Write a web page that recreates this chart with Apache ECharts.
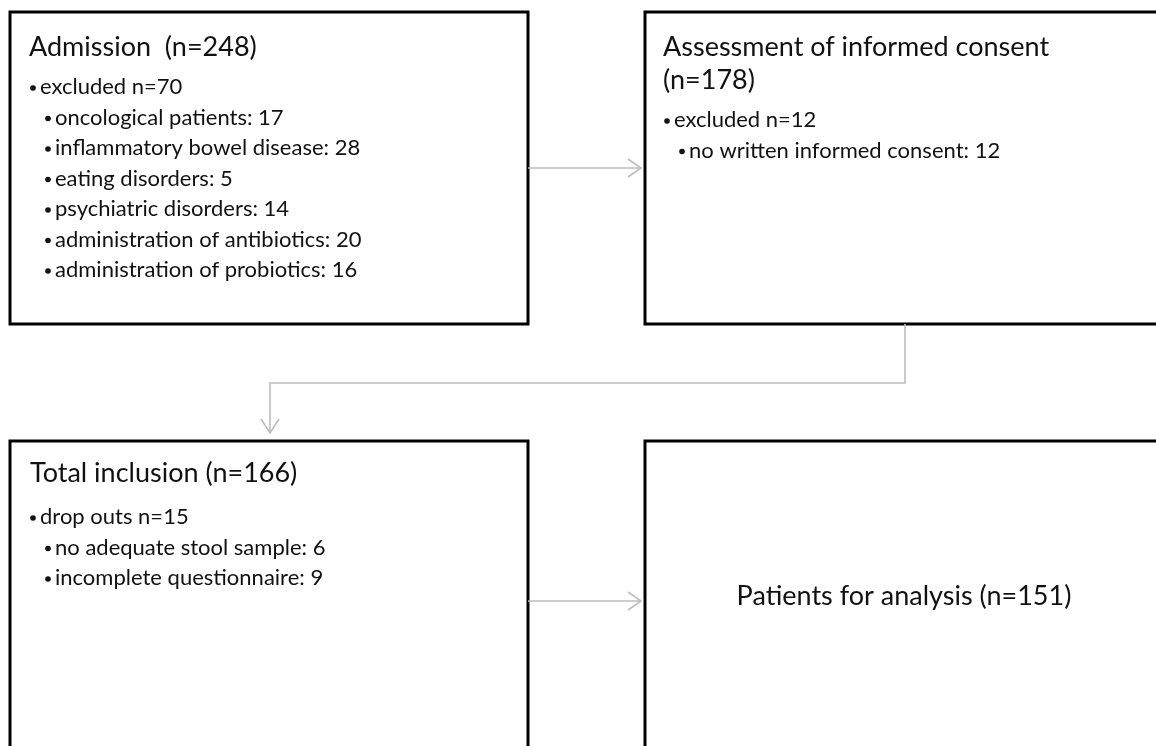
<!DOCTYPE html>
<html>
<head>
<meta charset="utf-8">
<script src="https://cdn.jsdelivr.net/npm/echarts@6/dist/echarts.min.js"></script>
<style>
  html, body { margin: 0; padding: 0; background: #fff; }
  #chart { width: 1156px; height: 746px; }
</style>
</head>
<body>
<div id="chart"></div>
<script>
// box texts
const titles = ['Admission  (n=248)', 'Assessment of informed consent\n(n=178)', 'Total inclusion (n=166)', 'Patients for analysis (n=151)']
const admissionLines = [
  ['excluded n=70', 0],
  ['oncological patients: 17', 1],
  ['inflammatory bowel disease: 28', 1],
  ['eating disorders: 5', 1],
  ['psychiatric disorders: 14', 1],
  ['administration of antibiotics: 20', 1],
  ['administration of probiotics: 16', 1]
]
const consentLines = [
  ['excluded n=12', 0],
  ['no written informed consent: 12', 1]
]
const inclusionLines = [
  ['drop outs n=15', 0],
  ['no adequate stool sample: 6', 1],
  ['incomplete questionnaire: 9', 1]
]

const FONT = 'Lato, "Open Sans", sans-serif'
const TITLE_SIZE = 27
const ITEM_SIZE = 22
const LINE_GAP = 30.5
const ARROW = '#bdbdbd'

const chart = echarts.init(document.getElementById('chart'), null, { renderer: 'canvas' })

const els = []

function box (x, y, w, h) {
  els.push({
    type: 'rect',
    shape: { x, y, width: w, height: h },
    style: { fill: '#fff', stroke: '#000', lineWidth: 3 },
    z: 1
  })
}

function title (txt, x, y, align) {
  els.push({
    type: 'text',
    x, y: y - 16.5,
    style: {
      text: txt,
      font: `${TITLE_SIZE}px ${FONT}`,
      fill: '#111',
      align: align || 'left',
      verticalAlign: 'top',
      lineHeight: 33
    },
    z: 3
  })
}

function bullets (lines, x, y) {
  lines.forEach(([txt, lvl], i) => {
    const bx = x + lvl * 15
    const cy = y + i * LINE_GAP
    els.push({
      type: 'circle',
      shape: { cx: bx + 3, cy: cy + 1, r: 2.8 },
      style: { fill: '#111' },
      z: 3
    })
    els.push({
      type: 'text',
      x: bx + 10, y: cy,
      style: { text: txt, font: `${ITEM_SIZE}px ${FONT}`, fill: '#111', verticalAlign: 'middle' },
      z: 3
    })
  })
}

function arrowLine (points, head) {
  els.push({
    type: 'polyline',
    shape: { points },
    style: { stroke: ARROW, lineWidth: 1.6, fill: null },
    z: 2
  })
  els.push({
    type: 'polyline',
    shape: { points: head },
    style: { stroke: ARROW, lineWidth: 1.6, fill: null },
    z: 2
  })
}

// connectors
arrowLine([[528, 168], [641, 168]], [[628, 159], [641, 168], [628, 177]])
arrowLine([[905, 324], [905, 383], [270, 383], [270, 433]], [[261, 419], [270, 433], [279, 419]])
arrowLine([[528, 601], [641, 601]], [[628, 592], [641, 601], [628, 610]])

// boxes
box(10, 12, 518, 312)
box(645, 12, 520, 312)
box(10, 441, 518, 320)
box(645, 441, 520, 320)

title(titles[0], 29, 47)
bullets(admissionLines, 30, 87)

title(titles[1], 663, 47)
bullets(consentLines, 664, 120)

title(titles[2], 30, 473)
bullets(inclusionLines, 30, 517)

title(titles[3], 904, 596, 'center')

chart.setOption({
  animation: false,
  graphic: { elements: els }
})
</script>
</body>
</html>
